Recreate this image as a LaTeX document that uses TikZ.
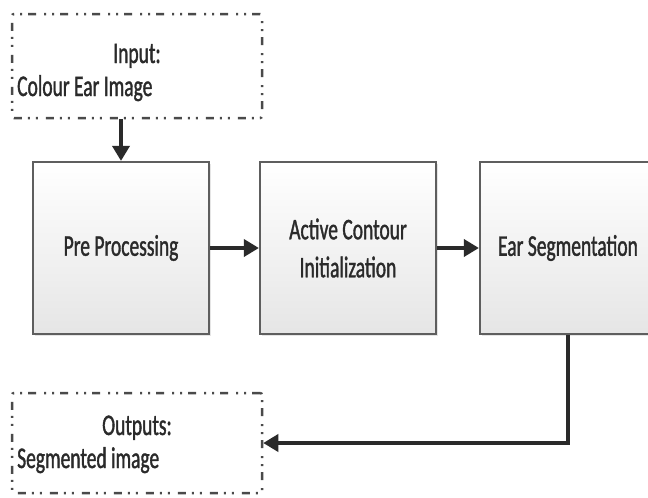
\documentclass[tikz,border=0pt]{standalone}
\usepackage{fontspec}
\setmainfont{Carlito}[FakeStretch=0.65,FakeBold=1.2]
\usetikzlibrary{arrows.meta,shadows}
\definecolor{boxline}{HTML}{5E5E5E}
\definecolor{dashline}{HTML}{4A4A4A}
\definecolor{arrowcol}{HTML}{2A2A2A}
\definecolor{txt}{HTML}{2A2A2A}
\tikzset{
  procbox/.style={draw=boxline, line width=2.2pt, top color=white, bottom color=black!10,
    minimum width=176pt, minimum height=172pt, inner sep=0pt, align=center,
    drop shadow={opacity=0.2, shadow xshift=2pt, shadow yshift=-2pt},
    text=txt, font=\fontsize{30}{38}\selectfont},
  iobox/.style={draw=dashline, line width=2.5pt, rounded corners=2pt,
    dash pattern=on 8pt off 6pt on 2pt off 6pt on 2pt off 8pt,
    minimum width=250pt, inner sep=0pt},
  iotext/.style={inner sep=0pt, anchor=base, text=txt, font=\fontsize{30}{38}\selectfont},
  flow/.style={draw=arrowcol, line width=3.5pt, -{Triangle[length=15pt,width=17pt]}}
}
\begin{document}
\begin{tikzpicture}[x=1pt,y=1pt]
\useasboundingbox (0,0) rectangle (648,-498);
\clip (0,0) rectangle (648,-498);
\fill[white] (0,0) rectangle (648,-498);
% input box
\node[iobox, minimum height=104pt] (in) at (137,-66) {};
\node[iotext] (intitle) at (137,-63) {Input:};
\node[iotext, anchor=base west] (intext) at (17,-96) {Colour Ear Image};
% process boxes
\node[procbox] (pre) at (121,-248) {Pre Processing};
\node[procbox] (act) at (348,-248) {Active Contour\\Initialization};
\node[procbox] (ear) at (568,-248) {Ear Segmentation};
% output box
\node[iobox, minimum height=100pt] (out) at (137,-443) {};
\node[iotext] (outtitle) at (137,-435) {Outputs:};
\node[iotext, anchor=base west] (outtext) at (17,-468) {Segmented image};
% connectors
\draw[flow] (pre.north |- in.south) -- (pre.north);
\draw[flow] (pre.east) -- (act.west);
\draw[flow] (act.east) -- (ear.west);
\draw[flow] (ear.south) |- (out.east);
\end{tikzpicture}
\end{document}
